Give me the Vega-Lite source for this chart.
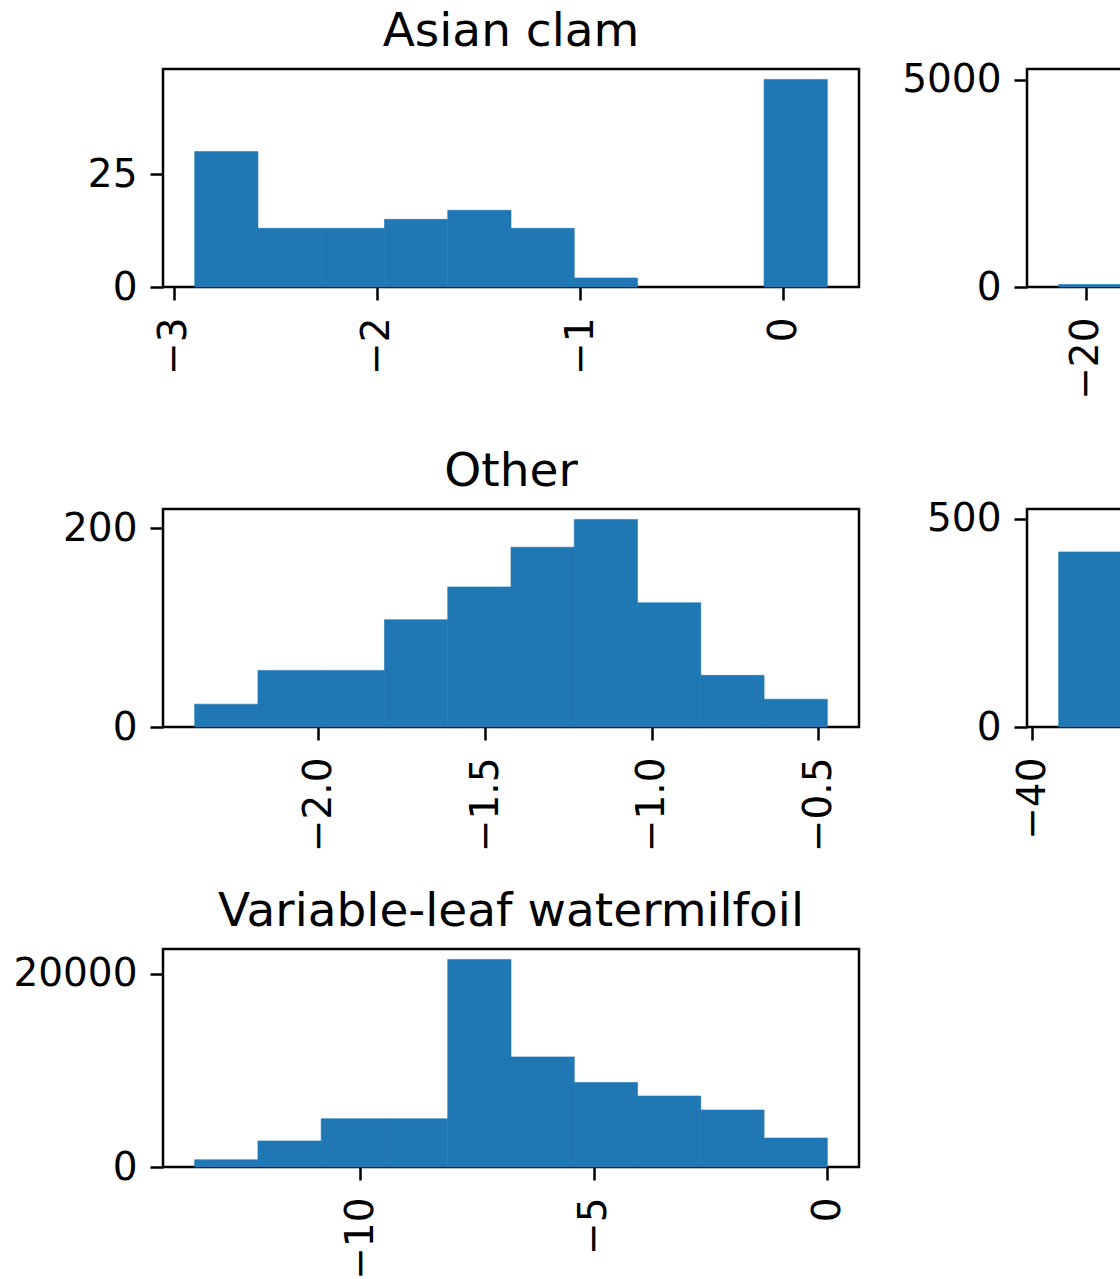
{
  "$schema": "https://vega.github.io/schema/vega-lite/v6.json",
  "background": "white",
  "padding": {"left": 11, "top": -2, "right": -604, "bottom": 0},
  "datasets": {
    "hist": [
      {"species": "Asian clam", "bin_start": -2.897, "bin_end": -2.5857, "count": 30},
      {"species": "Asian clam", "bin_start": -2.5857, "bin_end": -2.2744, "count": 13},
      {"species": "Asian clam", "bin_start": -2.2744, "bin_end": -1.9631, "count": 13},
      {"species": "Asian clam", "bin_start": -1.9631, "bin_end": -1.6518, "count": 15},
      {"species": "Asian clam", "bin_start": -1.6518, "bin_end": -1.3405, "count": 17},
      {"species": "Asian clam", "bin_start": -1.3405, "bin_end": -1.0292, "count": 13},
      {"species": "Asian clam", "bin_start": -1.0292, "bin_end": -0.7179, "count": 2},
      {"species": "Asian clam", "bin_start": -0.7179, "bin_end": -0.4066, "count": 0},
      {"species": "Asian clam", "bin_start": -0.4066, "bin_end": -0.0953, "count": 0},
      {"species": "Asian clam", "bin_start": -0.0953, "bin_end": 0.216, "count": 46},
      {"species": "Eurasian watermilfoil", "bin_start": -21.0, "bin_end": -18.65, "count": 60},
      {"species": "Eurasian watermilfoil", "bin_start": -18.65, "bin_end": -16.3, "count": 120},
      {"species": "Eurasian watermilfoil", "bin_start": -16.3, "bin_end": -13.95, "count": 260},
      {"species": "Eurasian watermilfoil", "bin_start": -13.95, "bin_end": -11.6, "count": 480},
      {"species": "Eurasian watermilfoil", "bin_start": -11.6, "bin_end": -9.25, "count": 900},
      {"species": "Eurasian watermilfoil", "bin_start": -9.25, "bin_end": -6.9, "count": 1600},
      {"species": "Eurasian watermilfoil", "bin_start": -6.9, "bin_end": -4.55, "count": 2700},
      {"species": "Eurasian watermilfoil", "bin_start": -4.55, "bin_end": -2.2, "count": 5000},
      {"species": "Eurasian watermilfoil", "bin_start": -2.2, "bin_end": 0.15, "count": 3900},
      {"species": "Eurasian watermilfoil", "bin_start": 0.15, "bin_end": 2.5, "count": 1100},
      {"species": "Other", "bin_start": -2.371, "bin_end": -2.1812, "count": 23},
      {"species": "Other", "bin_start": -2.1812, "bin_end": -1.9914, "count": 57},
      {"species": "Other", "bin_start": -1.9914, "bin_end": -1.8016, "count": 57},
      {"species": "Other", "bin_start": -1.8016, "bin_end": -1.6118, "count": 108},
      {"species": "Other", "bin_start": -1.6118, "bin_end": -1.422, "count": 141},
      {"species": "Other", "bin_start": -1.422, "bin_end": -1.2322, "count": 181},
      {"species": "Other", "bin_start": -1.2322, "bin_end": -1.0424, "count": 209},
      {"species": "Other", "bin_start": -1.0424, "bin_end": -0.8526, "count": 125},
      {"species": "Other", "bin_start": -0.8526, "bin_end": -0.6628, "count": 52},
      {"species": "Other", "bin_start": -0.6628, "bin_end": -0.473, "count": 28},
      {"species": "Starry stonewort", "bin_start": -38.4, "bin_end": -34.56, "count": 420},
      {"species": "Starry stonewort", "bin_start": -34.56, "bin_end": -30.72, "count": 498},
      {"species": "Starry stonewort", "bin_start": -30.72, "bin_end": -26.88, "count": 460},
      {"species": "Starry stonewort", "bin_start": -26.88, "bin_end": -23.04, "count": 400},
      {"species": "Starry stonewort", "bin_start": -23.04, "bin_end": -19.2, "count": 330},
      {"species": "Starry stonewort", "bin_start": -19.2, "bin_end": -15.36, "count": 260},
      {"species": "Starry stonewort", "bin_start": -15.36, "bin_end": -11.52, "count": 200},
      {"species": "Starry stonewort", "bin_start": -11.52, "bin_end": -7.68, "count": 150},
      {"species": "Starry stonewort", "bin_start": -7.68, "bin_end": -3.84, "count": 100},
      {"species": "Starry stonewort", "bin_start": -3.84, "bin_end": 0.0, "count": 60},
      {"species": "Variable-leaf watermilfoil", "bin_start": -13.55, "bin_end": -12.195, "count": 750},
      {"species": "Variable-leaf watermilfoil", "bin_start": -12.195, "bin_end": -10.84, "count": 2700},
      {"species": "Variable-leaf watermilfoil", "bin_start": -10.84, "bin_end": -9.485, "count": 5000},
      {"species": "Variable-leaf watermilfoil", "bin_start": -9.485, "bin_end": -8.13, "count": 5000},
      {"species": "Variable-leaf watermilfoil", "bin_start": -8.13, "bin_end": -6.775, "count": 21500},
      {"species": "Variable-leaf watermilfoil", "bin_start": -6.775, "bin_end": -5.42, "count": 11400},
      {"species": "Variable-leaf watermilfoil", "bin_start": -5.42, "bin_end": -4.065, "count": 8750},
      {"species": "Variable-leaf watermilfoil", "bin_start": -4.065, "bin_end": -2.71, "count": 7350},
      {"species": "Variable-leaf watermilfoil", "bin_start": -2.71, "bin_end": -1.355, "count": 5900},
      {"species": "Variable-leaf watermilfoil", "bin_start": -1.355, "bin_end": 0.0, "count": 3000}
    ]
  },
  "columns": 2,
  "bounds": "flush",
  "spacing": {"row": 222, "column": 168},
  "concat": [
    {
      "title": "Asian clam",
      "width": 696, "height": 218,
      "data": {"name": "hist"},
      "transform": [{"filter": "datum.species === 'Asian clam' && datum.count > 0"}],
      "mark": {"type": "rect", "color": "#1f77b4", "stroke": "#1f77b4", "strokeWidth": 0.6},
      "encoding": {
        "x": {"field": "bin_start", "type": "quantitative", "title": null, "scale": {"domain": [-3.053, 0.372], "nice": false, "zero": false}, "axis": {"values": [-3, -2, -1, 0], "format": "d"}},
        "x2": {"field": "bin_end"},
        "y": {"field": "count", "type": "quantitative", "title": null, "scale": {"domain": [0, 48.3], "nice": false}, "axis": {"values": [0, 25], "format": "d"}},
        "y2": {"datum": 0}
      }
    },
    {
      "title": "Eurasian watermilfoil",
      "width": 696, "height": 218,
      "data": {"name": "hist"},
      "transform": [{"filter": "datum.species === 'Eurasian watermilfoil' && datum.count > 0"}],
      "mark": {"type": "rect", "color": "#1f77b4", "stroke": "#1f77b4", "strokeWidth": 0.6},
      "encoding": {
        "x": {"field": "bin_start", "type": "quantitative", "title": null, "scale": {"domain": [-22.175, 3.675], "nice": false, "zero": false}, "axis": {"values": [-20, -10, 0], "format": "d"}},
        "x2": {"field": "bin_end"},
        "y": {"field": "count", "type": "quantitative", "title": null, "scale": {"domain": [0, 5255], "nice": false}, "axis": {"values": [0, 5000], "format": "d"}},
        "y2": {"datum": 0}
      }
    },
    {
      "title": "Other",
      "width": 696, "height": 218,
      "data": {"name": "hist"},
      "transform": [{"filter": "datum.species === 'Other' && datum.count > 0"}],
      "mark": {"type": "rect", "color": "#1f77b4", "stroke": "#1f77b4", "strokeWidth": 0.6},
      "encoding": {
        "x": {"field": "bin_start", "type": "quantitative", "title": null, "scale": {"domain": [-2.466, -0.378], "nice": false, "zero": false}, "axis": {"values": [-2.0, -1.5, -1.0, -0.5], "format": ".1f"}},
        "x2": {"field": "bin_end"},
        "y": {"field": "count", "type": "quantitative", "title": null, "scale": {"domain": [0, 219.45], "nice": false}, "axis": {"values": [0, 200], "format": "d"}},
        "y2": {"datum": 0}
      }
    },
    {
      "title": "Starry stonewort",
      "width": 696, "height": 218,
      "data": {"name": "hist"},
      "transform": [{"filter": "datum.species === 'Starry stonewort' && datum.count > 0"}],
      "mark": {"type": "rect", "color": "#1f77b4", "stroke": "#1f77b4", "strokeWidth": 0.6},
      "encoding": {
        "x": {"field": "bin_start", "type": "quantitative", "title": null, "scale": {"domain": [-40.32, 1.92], "nice": false, "zero": false}, "axis": {"values": [-40, -20, 0], "format": "d"}},
        "x2": {"field": "bin_end"},
        "y": {"field": "count", "type": "quantitative", "title": null, "scale": {"domain": [0, 523], "nice": false}, "axis": {"values": [0, 500], "format": "d"}},
        "y2": {"datum": 0}
      }
    },
    {
      "title": "Variable-leaf watermilfoil",
      "width": 696, "height": 218,
      "data": {"name": "hist"},
      "transform": [{"filter": "datum.species === 'Variable-leaf watermilfoil' && datum.count > 0"}],
      "mark": {"type": "rect", "color": "#1f77b4", "stroke": "#1f77b4", "strokeWidth": 0.6},
      "encoding": {
        "x": {"field": "bin_start", "type": "quantitative", "title": null, "scale": {"domain": [-14.2275, 0.6775], "nice": false, "zero": false}, "axis": {"values": [-10, -5, 0], "format": "d"}},
        "x2": {"field": "bin_end"},
        "y": {"field": "count", "type": "quantitative", "title": null, "scale": {"domain": [0, 22575], "nice": false}, "axis": {"values": [0, 20000], "format": "d"}},
        "y2": {"datum": 0}
      }
    }
  ],
  "config": {
    "font": "DejaVu Sans",
    "view": {"stroke": "black", "strokeWidth": 2.5},
    "axis": {
      "labelFont": "DejaVu Sans", "labelFontSize": 39, "labelColor": "black",
      "tickColor": "black", "tickWidth": 2.5, "tickSize": 13,
      "domain": false, "grid": false,
      "labelOverlap": false, "labelFlush": false, "labelBound": false
    },
    "axisX": {"labelAngle": 270, "labelPadding": 17},
    "axisY": {"labelPadding": 13},
    "title": {"font": "DejaVu Sans", "fontSize": 47, "fontWeight": "normal", "color": "black", "frame": "group", "anchor": "middle", "baseline": "alphabetic", "offset": 13}
  }
}
